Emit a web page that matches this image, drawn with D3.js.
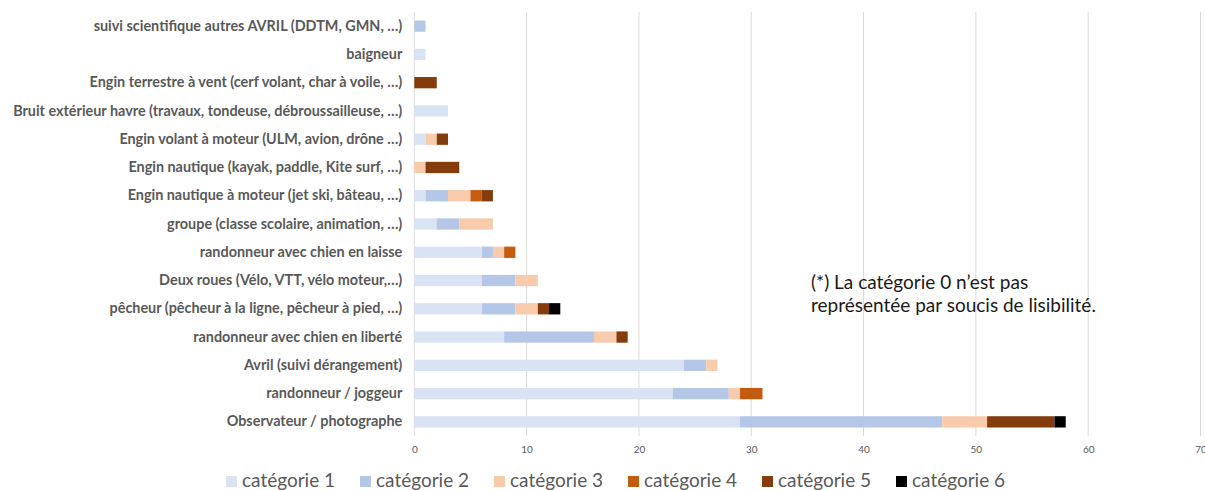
<!DOCTYPE html>
<html>
<head>
<meta charset="utf-8">
<script src="https://cdn.jsdelivr.net/npm/d3@7"></script>
<style>
  body { margin: 0; background: #fff; }
  svg { display: block; }
</style>
</head>
<body>
<svg id="chart" width="1205" height="490"></svg>
<script>
// categories, bottom row first in the list as in the original sheet
var activites = [
  'suivi scientifique autres AVRIL (DDTM, GMN, …)',
  'baigneur',
  'Engin terrestre à vent (cerf volant, char à voile, …)',
  'Bruit extérieur havre (travaux, tondeuse, débroussailleuse, …)',
  'Engin volant à moteur (ULM, avion, drône …)',
  'Engin nautique (kayak, paddle, Kite surf, …)',
  'Engin nautique à moteur (jet ski, bâteau, …)',
  'groupe (classe scolaire, animation, …)',
  'randonneur avec chien en laisse',
  'Deux roues (Vélo, VTT, vélo moteur,…)',
  'pêcheur (pêcheur à la ligne, pêcheur à pied, …)',
  'randonneur avec chien en liberté',
  'Avril (suivi dérangement)',
  'randonneur / joggeur',
  'Observateur / photographe'
];

var categorie1 = [0, 1, 0, 3, 1, 0, 1, 2, 6, 6, 6, 8, 24, 23, 29];
var categorie2 = [1, 0, 0, 0, 0, 0, 2, 2, 1, 3, 3, 8, 2, 5, 18];
var categorie3 = [0, 0, 0, 0, 1, 1, 2, 3, 1, 2, 2, 2, 1, 1, 4];
var categorie4 = [0, 0, 0, 0, 0, 0, 1, 0, 1, 0, 0, 0, 0, 2, 0];
var categorie5 = [0, 0, 2, 0, 1, 3, 1, 0, 0, 0, 1, 1, 0, 0, 6];
var categorie6 = [0, 0, 0, 0, 0, 0, 0, 0, 0, 0, 1, 0, 0, 0, 1];

var series = ['catégorie 1', 'catégorie 2', 'catégorie 3', 'catégorie 4', 'catégorie 5', 'catégorie 6'];
var couleurs = ['#dae3f3', '#b4c7e7', '#f8cbad', '#c55a11', '#843c0c', '#000000'];
var ticksX = [0, 10, 20, 30, 40, 50, 60, 70];

var note = ['(*) La catégorie 0 n’est pas', 'représentée par soucis de lisibilité.'];

var table = activites.map(function(a, i){
  return {
    activite: a,
    'catégorie 1': categorie1[i],
    'catégorie 2': categorie2[i],
    'catégorie 3': categorie3[i],
    'catégorie 4': categorie4[i],
    'catégorie 5': categorie5[i],
    'catégorie 6': categorie6[i]
  };
});

var svg = d3.select('#chart');
var font = 'Lato, "Open Sans", sans-serif';

var plot = { left: 414.3, right: 1200.5, top: 12, bottom: 436 };

var x = d3.scaleLinear().domain([0, 70]).range([plot.left, plot.right]);
var y = d3.scaleBand().domain(activites).range([plot.top, plot.bottom]).paddingInner(0.6).paddingOuter(0.3);
var color = d3.scaleOrdinal().domain(series).range(couleurs);

// grid
svg.append('g').selectAll('line')
  .data(ticksX)
  .enter().append('line')
  .attr('x1', function(d){ return x(d); })
  .attr('x2', function(d){ return x(d); })
  .attr('y1', plot.top)
  .attr('y2', plot.bottom)
  .attr('stroke', '#d9d9d9')
  .attr('stroke-width', 1);

// stacked bars
var stack = d3.stack().keys(series)(table);

svg.append('g').selectAll('g')
  .data(stack)
  .enter().append('g')
  .attr('fill', function(d){ return color(d.key); })
  .selectAll('rect')
  .data(function(d){ return d; })
  .enter().append('rect')
  .attr('x', function(d){ return x(d[0]); })
  .attr('y', function(d){ return y(d.data.activite); })
  .attr('width', function(d){ return x(d[1]) - x(d[0]); })
  .attr('height', y.bandwidth());

// x axis
var axisX = svg.append('g')
  .attr('transform', 'translate(0,' + plot.bottom + ')')
  .call(d3.axisBottom(x).tickValues(ticksX).tickSize(0).tickPadding(10));
axisX.select('.domain').remove();
axisX.selectAll('text')
  .attr('fill', '#595959')
  .attr('font-family', font)
  .attr('font-size', '10px');

// y axis labels
var axisY = svg.append('g')
  .attr('transform', 'translate(' + (plot.left - 12) + ',0)')
  .call(d3.axisLeft(y).tickSize(0).tickPadding(0));
axisY.select('.domain').remove();
axisY.selectAll('text')
  .attr('fill', '#595959')
  .attr('font-family', font)
  .attr('font-weight', 'bold')
  .attr('font-size', '14.4px');

// note
svg.append('g').selectAll('text')
  .data(note)
  .enter().append('text')
  .attr('x', 811)
  .attr('y', function(d, i){ return 289 + i * 23; })
  .attr('fill', '#1a1a1a')
  .attr('font-family', font)
  .attr('font-size', '19px')
  .text(function(d){ return d; });

// legend
var legend = svg.append('g').selectAll('g')
  .data(series)
  .enter().append('g')
  .attr('transform', function(d, i){ return 'translate(' + (226 + i * 134) + ',476)'; });

legend.append('rect')
  .attr('width', 11)
  .attr('height', 11)
  .attr('fill', function(d){ return color(d); });

legend.append('text')
  .attr('x', 16)
  .attr('y', 11)
  .attr('fill', '#595959')
  .attr('font-family', font)
  .attr('font-size', '19px')
  .text(function(d){ return d; });
</script>
</body>
</html>
